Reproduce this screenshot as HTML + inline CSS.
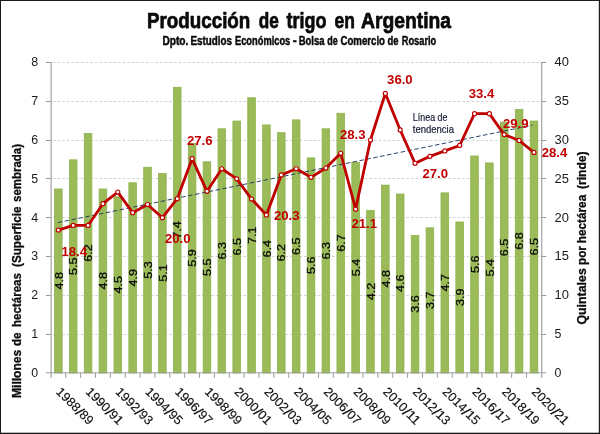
<!DOCTYPE html>
<html lang="es"><head><meta charset="utf-8"><title>Producción de trigo en Argentina</title>
<style>html,body{margin:0;padding:0;background:#fff}body{width:600px;height:434px;overflow:hidden}svg{display:block}text{font-family:"Liberation Sans",sans-serif}</style>
</head><body>
<svg width="600" height="434" viewBox="0 0 600 434">
<rect x="0" y="0" width="600" height="434" fill="#fff"/>
<g stroke="#d4d4d4" stroke-width="1" stroke-dasharray="2.8 1.85" fill="none">
<line x1="52.9" y1="334.50" x2="541.4" y2="334.50"/>
<line x1="52.9" y1="295.50" x2="541.4" y2="295.50"/>
<line x1="52.9" y1="256.50" x2="541.4" y2="256.50"/>
<line x1="52.9" y1="217.50" x2="541.4" y2="217.50"/>
<line x1="52.9" y1="178.50" x2="541.4" y2="178.50"/>
<line x1="52.9" y1="140.50" x2="541.4" y2="140.50"/>
<line x1="52.9" y1="101.50" x2="541.4" y2="101.50"/>
<line x1="52.9" y1="62.50" x2="541.4" y2="62.50"/>
</g>
<g fill="#9bbb59" stroke="#8eb24b" stroke-width="0.8">
<rect x="54.53" y="188.98" width="7.60" height="184.02"/>
<rect x="69.40" y="159.86" width="7.60" height="213.14"/>
<rect x="84.26" y="133.46" width="7.60" height="239.54"/>
<rect x="99.12" y="188.98" width="7.60" height="184.02"/>
<rect x="113.99" y="196.75" width="7.60" height="176.25"/>
<rect x="128.85" y="182.77" width="7.60" height="190.23"/>
<rect x="143.71" y="167.24" width="7.60" height="205.76"/>
<rect x="158.58" y="173.45" width="7.60" height="199.55"/>
<rect x="173.44" y="87.26" width="7.60" height="285.74"/>
<rect x="188.30" y="143.56" width="7.60" height="229.44"/>
<rect x="203.17" y="161.80" width="7.60" height="211.20"/>
<rect x="218.03" y="128.80" width="7.60" height="244.20"/>
<rect x="232.90" y="121.04" width="7.60" height="251.96"/>
<rect x="247.76" y="97.74" width="7.60" height="275.26"/>
<rect x="262.62" y="124.92" width="7.60" height="248.08"/>
<rect x="277.49" y="132.68" width="7.60" height="240.32"/>
<rect x="292.35" y="119.87" width="7.60" height="253.13"/>
<rect x="307.21" y="157.92" width="7.60" height="215.08"/>
<rect x="322.08" y="128.80" width="7.60" height="244.20"/>
<rect x="336.94" y="113.27" width="7.60" height="259.73"/>
<rect x="351.80" y="162.58" width="7.60" height="210.42"/>
<rect x="366.67" y="210.33" width="7.60" height="162.67"/>
<rect x="381.53" y="185.10" width="7.60" height="187.90"/>
<rect x="396.40" y="194.03" width="7.60" height="178.97"/>
<rect x="411.26" y="235.57" width="7.60" height="137.43"/>
<rect x="426.12" y="227.81" width="7.60" height="145.19"/>
<rect x="440.99" y="192.86" width="7.60" height="180.14"/>
<rect x="455.85" y="221.98" width="7.60" height="151.02"/>
<rect x="470.71" y="155.98" width="7.60" height="217.02"/>
<rect x="485.58" y="162.97" width="7.60" height="210.03"/>
<rect x="500.44" y="122.20" width="7.60" height="250.80"/>
<rect x="515.30" y="109.39" width="7.60" height="263.61"/>
<rect x="530.17" y="121.04" width="7.60" height="251.96"/>
</g>
<g stroke="#ababab" stroke-width="1.3" fill="none">
<line x1="51.15" y1="61.9" x2="51.15" y2="377.8"/>
<line x1="541.6999999999999" y1="61.9" x2="541.6999999999999" y2="377.8"/>
<line x1="45.9" y1="372.8" x2="546.1999999999999" y2="372.8" stroke-width="1" stroke="#9c9c9c"/>
</g>
<g stroke="#9a9a9a" stroke-width="1" fill="none">
<line x1="45.9" y1="334.50" x2="50.9" y2="334.50"/>
<line x1="541.4" y1="334.50" x2="546.1999999999999" y2="334.50"/>
<line x1="45.9" y1="295.50" x2="50.9" y2="295.50"/>
<line x1="541.4" y1="295.50" x2="546.1999999999999" y2="295.50"/>
<line x1="45.9" y1="256.50" x2="50.9" y2="256.50"/>
<line x1="541.4" y1="256.50" x2="546.1999999999999" y2="256.50"/>
<line x1="45.9" y1="217.50" x2="50.9" y2="217.50"/>
<line x1="541.4" y1="217.50" x2="546.1999999999999" y2="217.50"/>
<line x1="45.9" y1="178.50" x2="50.9" y2="178.50"/>
<line x1="541.4" y1="178.50" x2="546.1999999999999" y2="178.50"/>
<line x1="45.9" y1="140.50" x2="50.9" y2="140.50"/>
<line x1="541.4" y1="140.50" x2="546.1999999999999" y2="140.50"/>
<line x1="45.9" y1="101.50" x2="50.9" y2="101.50"/>
<line x1="541.4" y1="101.50" x2="546.1999999999999" y2="101.50"/>
<line x1="45.9" y1="62.50" x2="50.9" y2="62.50"/>
<line x1="541.4" y1="62.50" x2="546.1999999999999" y2="62.50"/>
<line x1="65.76" y1="373.0" x2="65.76" y2="377.8"/>
<line x1="80.63" y1="373.0" x2="80.63" y2="377.8"/>
<line x1="95.49" y1="373.0" x2="95.49" y2="377.8"/>
<line x1="110.35" y1="373.0" x2="110.35" y2="377.8"/>
<line x1="125.22" y1="373.0" x2="125.22" y2="377.8"/>
<line x1="140.08" y1="373.0" x2="140.08" y2="377.8"/>
<line x1="154.95" y1="373.0" x2="154.95" y2="377.8"/>
<line x1="169.81" y1="373.0" x2="169.81" y2="377.8"/>
<line x1="184.67" y1="373.0" x2="184.67" y2="377.8"/>
<line x1="199.54" y1="373.0" x2="199.54" y2="377.8"/>
<line x1="214.40" y1="373.0" x2="214.40" y2="377.8"/>
<line x1="229.26" y1="373.0" x2="229.26" y2="377.8"/>
<line x1="244.13" y1="373.0" x2="244.13" y2="377.8"/>
<line x1="258.99" y1="373.0" x2="258.99" y2="377.8"/>
<line x1="273.85" y1="373.0" x2="273.85" y2="377.8"/>
<line x1="288.72" y1="373.0" x2="288.72" y2="377.8"/>
<line x1="303.58" y1="373.0" x2="303.58" y2="377.8"/>
<line x1="318.45" y1="373.0" x2="318.45" y2="377.8"/>
<line x1="333.31" y1="373.0" x2="333.31" y2="377.8"/>
<line x1="348.17" y1="373.0" x2="348.17" y2="377.8"/>
<line x1="363.04" y1="373.0" x2="363.04" y2="377.8"/>
<line x1="377.90" y1="373.0" x2="377.90" y2="377.8"/>
<line x1="392.76" y1="373.0" x2="392.76" y2="377.8"/>
<line x1="407.63" y1="373.0" x2="407.63" y2="377.8"/>
<line x1="422.49" y1="373.0" x2="422.49" y2="377.8"/>
<line x1="437.35" y1="373.0" x2="437.35" y2="377.8"/>
<line x1="452.22" y1="373.0" x2="452.22" y2="377.8"/>
<line x1="467.08" y1="373.0" x2="467.08" y2="377.8"/>
<line x1="481.95" y1="373.0" x2="481.95" y2="377.8"/>
<line x1="496.81" y1="373.0" x2="496.81" y2="377.8"/>
<line x1="511.67" y1="373.0" x2="511.67" y2="377.8"/>
<line x1="526.54" y1="373.0" x2="526.54" y2="377.8"/>
</g>
<g font-size="11.6" fill="#0c0c0c" stroke="#0c0c0c" stroke-width="0.3" text-anchor="middle">
<text transform="translate(62.53,280.79) rotate(-90)" textLength="17.5" lengthAdjust="spacingAndGlyphs">4.8</text>
<text transform="translate(77.40,266.23) rotate(-90)" textLength="17.5" lengthAdjust="spacingAndGlyphs">5.5</text>
<text transform="translate(92.26,253.03) rotate(-90)" textLength="17.5" lengthAdjust="spacingAndGlyphs">6.2</text>
<text transform="translate(107.12,280.79) rotate(-90)" textLength="17.5" lengthAdjust="spacingAndGlyphs">4.8</text>
<text transform="translate(121.99,284.67) rotate(-90)" textLength="17.5" lengthAdjust="spacingAndGlyphs">4.5</text>
<text transform="translate(136.85,277.68) rotate(-90)" textLength="17.5" lengthAdjust="spacingAndGlyphs">4.9</text>
<text transform="translate(151.71,269.92) rotate(-90)" textLength="17.5" lengthAdjust="spacingAndGlyphs">5.3</text>
<text transform="translate(166.58,273.03) rotate(-90)" textLength="17.5" lengthAdjust="spacingAndGlyphs">5.1</text>
<text transform="translate(181.44,229.93) rotate(-90)" textLength="17.5" lengthAdjust="spacingAndGlyphs">7.4</text>
<text transform="translate(196.30,258.08) rotate(-90)" textLength="17.5" lengthAdjust="spacingAndGlyphs">5.9</text>
<text transform="translate(211.17,267.20) rotate(-90)" textLength="17.5" lengthAdjust="spacingAndGlyphs">5.5</text>
<text transform="translate(226.03,250.70) rotate(-90)" textLength="17.5" lengthAdjust="spacingAndGlyphs">6.3</text>
<text transform="translate(240.90,246.82) rotate(-90)" textLength="17.5" lengthAdjust="spacingAndGlyphs">6.5</text>
<text transform="translate(255.76,235.17) rotate(-90)" textLength="17.5" lengthAdjust="spacingAndGlyphs">7.1</text>
<text transform="translate(270.62,248.76) rotate(-90)" textLength="17.5" lengthAdjust="spacingAndGlyphs">6.4</text>
<text transform="translate(285.49,252.64) rotate(-90)" textLength="17.5" lengthAdjust="spacingAndGlyphs">6.2</text>
<text transform="translate(300.35,246.24) rotate(-90)" textLength="17.5" lengthAdjust="spacingAndGlyphs">6.5</text>
<text transform="translate(315.21,265.26) rotate(-90)" textLength="17.5" lengthAdjust="spacingAndGlyphs">5.6</text>
<text transform="translate(330.08,250.70) rotate(-90)" textLength="17.5" lengthAdjust="spacingAndGlyphs">6.3</text>
<text transform="translate(344.94,242.94) rotate(-90)" textLength="17.5" lengthAdjust="spacingAndGlyphs">6.7</text>
<text transform="translate(359.80,267.59) rotate(-90)" textLength="17.5" lengthAdjust="spacingAndGlyphs">5.4</text>
<text transform="translate(374.67,291.47) rotate(-90)" textLength="17.5" lengthAdjust="spacingAndGlyphs">4.2</text>
<text transform="translate(389.53,278.85) rotate(-90)" textLength="17.5" lengthAdjust="spacingAndGlyphs">4.8</text>
<text transform="translate(404.40,283.31) rotate(-90)" textLength="17.5" lengthAdjust="spacingAndGlyphs">4.6</text>
<text transform="translate(419.26,304.09) rotate(-90)" textLength="17.5" lengthAdjust="spacingAndGlyphs">3.6</text>
<text transform="translate(434.12,300.20) rotate(-90)" textLength="17.5" lengthAdjust="spacingAndGlyphs">3.7</text>
<text transform="translate(448.99,282.73) rotate(-90)" textLength="17.5" lengthAdjust="spacingAndGlyphs">4.7</text>
<text transform="translate(463.85,297.29) rotate(-90)" textLength="17.5" lengthAdjust="spacingAndGlyphs">3.9</text>
<text transform="translate(478.71,264.29) rotate(-90)" textLength="17.5" lengthAdjust="spacingAndGlyphs">5.6</text>
<text transform="translate(493.58,267.78) rotate(-90)" textLength="17.5" lengthAdjust="spacingAndGlyphs">5.4</text>
<text transform="translate(508.44,247.40) rotate(-90)" textLength="17.5" lengthAdjust="spacingAndGlyphs">6.5</text>
<text transform="translate(523.30,241.00) rotate(-90)" textLength="17.5" lengthAdjust="spacingAndGlyphs">6.8</text>
<text transform="translate(538.17,246.82) rotate(-90)" textLength="17.5" lengthAdjust="spacingAndGlyphs">6.5</text>
</g>
<line x1="57.8" y1="222.6" x2="532.5" y2="125.2" stroke="#1f3864" stroke-width="0.95" stroke-dasharray="4.5 2.5"/>
<polyline points="58.33,230.12 73.20,225.46 88.06,225.46 102.92,203.72 117.79,192.08 132.65,212.65 147.51,204.50 162.38,217.70 177.24,198.68 192.10,158.69 206.97,191.30 221.83,168.78 236.70,178.87 251.56,199.06 266.42,214.98 281.29,174.99 296.15,168.78 311.01,177.32 325.88,168.00 340.74,153.25 355.60,209.16 370.47,140.05 385.33,93.46 400.20,129.96 415.06,163.34 429.92,156.36 444.79,150.92 459.65,145.49 474.51,113.65 489.38,113.65 504.24,134.61 519.10,140.44 533.97,152.47" fill="none" stroke="#c00000" stroke-width="2.8" stroke-linejoin="round" stroke-linecap="round"/>
<g fill="#fff" stroke="#c00000" stroke-width="1.15">
<circle cx="58.33" cy="230.12" r="2.05"/>
<circle cx="73.20" cy="225.46" r="2.05"/>
<circle cx="88.06" cy="225.46" r="2.05"/>
<circle cx="102.92" cy="203.72" r="2.05"/>
<circle cx="117.79" cy="192.08" r="2.05"/>
<circle cx="132.65" cy="212.65" r="2.05"/>
<circle cx="147.51" cy="204.50" r="2.05"/>
<circle cx="162.38" cy="217.70" r="2.05"/>
<circle cx="177.24" cy="198.68" r="2.05"/>
<circle cx="192.10" cy="158.69" r="2.05"/>
<circle cx="206.97" cy="191.30" r="2.05"/>
<circle cx="221.83" cy="168.78" r="2.05"/>
<circle cx="236.70" cy="178.87" r="2.05"/>
<circle cx="251.56" cy="199.06" r="2.05"/>
<circle cx="266.42" cy="214.98" r="2.05"/>
<circle cx="281.29" cy="174.99" r="2.05"/>
<circle cx="296.15" cy="168.78" r="2.05"/>
<circle cx="311.01" cy="177.32" r="2.05"/>
<circle cx="325.88" cy="168.00" r="2.05"/>
<circle cx="340.74" cy="153.25" r="2.05"/>
<circle cx="355.60" cy="209.16" r="2.05"/>
<circle cx="370.47" cy="140.05" r="2.05"/>
<circle cx="385.33" cy="93.46" r="2.05"/>
<circle cx="400.20" cy="129.96" r="2.05"/>
<circle cx="415.06" cy="163.34" r="2.05"/>
<circle cx="429.92" cy="156.36" r="2.05"/>
<circle cx="444.79" cy="150.92" r="2.05"/>
<circle cx="459.65" cy="145.49" r="2.05"/>
<circle cx="474.51" cy="113.65" r="2.05"/>
<circle cx="489.38" cy="113.65" r="2.05"/>
<circle cx="504.24" cy="134.61" r="2.05"/>
<circle cx="519.10" cy="140.44" r="2.05"/>
<circle cx="533.97" cy="152.47" r="2.05"/>
</g>
<g font-size="13" font-weight="bold" fill="#c00000">
<text x="61.5" y="255.6" textLength="25.6" lengthAdjust="spacingAndGlyphs">18.4</text>
<text x="187.0" y="145.1" textLength="25.6" lengthAdjust="spacingAndGlyphs">27.6</text>
<text x="165" y="243" textLength="25.6" lengthAdjust="spacingAndGlyphs">20.0</text>
<text x="274" y="220" textLength="25.6" lengthAdjust="spacingAndGlyphs">20.3</text>
<text x="339.9" y="138.7" textLength="25.6" lengthAdjust="spacingAndGlyphs">28.3</text>
<text x="351.5" y="228" textLength="25.6" lengthAdjust="spacingAndGlyphs">21.1</text>
<text x="387.1" y="84" textLength="25.6" lengthAdjust="spacingAndGlyphs">36.0</text>
<text x="422.4" y="177.8" textLength="25.6" lengthAdjust="spacingAndGlyphs">27.0</text>
<text x="468.7" y="97.5" textLength="25.6" lengthAdjust="spacingAndGlyphs">33.4</text>
<text x="502.9" y="127.6" textLength="25.6" lengthAdjust="spacingAndGlyphs">29.9</text>
<text x="541.7" y="156.5" textLength="25.6" lengthAdjust="spacingAndGlyphs">28.4</text>
</g>
<g font-size="10.6" fill="#161d33" stroke="#161d33" stroke-width="0.2">
<text x="412.8" y="120.5" textLength="34.7" lengthAdjust="spacingAndGlyphs">Línea de</text>
<text x="412.8" y="133" textLength="41.2" lengthAdjust="spacingAndGlyphs">tendencia</text>
</g>
<g font-size="12.3" fill="#1a1a1a">
<text x="38.2" y="376.80" text-anchor="end" textLength="6.9" lengthAdjust="spacingAndGlyphs">0</text>
<text x="38.2" y="337.98" text-anchor="end" textLength="6.9" lengthAdjust="spacingAndGlyphs">1</text>
<text x="38.2" y="299.15" text-anchor="end" textLength="6.9" lengthAdjust="spacingAndGlyphs">2</text>
<text x="38.2" y="260.32" text-anchor="end" textLength="6.9" lengthAdjust="spacingAndGlyphs">3</text>
<text x="38.2" y="221.50" text-anchor="end" textLength="6.9" lengthAdjust="spacingAndGlyphs">4</text>
<text x="38.2" y="182.68" text-anchor="end" textLength="6.9" lengthAdjust="spacingAndGlyphs">5</text>
<text x="38.2" y="143.85" text-anchor="end" textLength="6.9" lengthAdjust="spacingAndGlyphs">6</text>
<text x="38.2" y="105.02" text-anchor="end" textLength="6.9" lengthAdjust="spacingAndGlyphs">7</text>
<text x="38.2" y="66.20" text-anchor="end" textLength="6.9" lengthAdjust="spacingAndGlyphs">8</text>
<text x="554.6" y="376.80" textLength="6.9" lengthAdjust="spacingAndGlyphs">0</text>
<text x="554.6" y="337.98" textLength="6.9" lengthAdjust="spacingAndGlyphs">5</text>
<text x="554.6" y="299.15" textLength="14.4" lengthAdjust="spacingAndGlyphs">10</text>
<text x="554.6" y="260.32" textLength="14.4" lengthAdjust="spacingAndGlyphs">15</text>
<text x="554.6" y="221.50" textLength="14.4" lengthAdjust="spacingAndGlyphs">20</text>
<text x="554.6" y="182.68" textLength="14.4" lengthAdjust="spacingAndGlyphs">25</text>
<text x="554.6" y="143.85" textLength="14.4" lengthAdjust="spacingAndGlyphs">30</text>
<text x="554.6" y="105.02" textLength="14.4" lengthAdjust="spacingAndGlyphs">35</text>
<text x="554.6" y="66.20" textLength="14.4" lengthAdjust="spacingAndGlyphs">40</text>
</g>
<g font-size="12.6" fill="#101010" stroke="#101010" stroke-width="0.15">
<g transform="translate(54.73,391.8) rotate(45)"><text x="0.9" textLength="28.5" lengthAdjust="spacingAndGlyphs">1988</text><text x="29.5" y="1.3" font-size="14.2" textLength="4.6" lengthAdjust="spacingAndGlyphs">/</text><text x="33.6" textLength="14.1" lengthAdjust="spacingAndGlyphs">89</text></g>
<g transform="translate(84.46,391.8) rotate(45)"><text x="0.9" textLength="28.5" lengthAdjust="spacingAndGlyphs">1990</text><text x="29.5" y="1.3" font-size="14.2" textLength="4.6" lengthAdjust="spacingAndGlyphs">/</text><text x="33.6" textLength="14.1" lengthAdjust="spacingAndGlyphs">91</text></g>
<g transform="translate(114.19,391.8) rotate(45)"><text x="0.9" textLength="28.5" lengthAdjust="spacingAndGlyphs">1992</text><text x="29.5" y="1.3" font-size="14.2" textLength="4.6" lengthAdjust="spacingAndGlyphs">/</text><text x="33.6" textLength="14.1" lengthAdjust="spacingAndGlyphs">93</text></g>
<g transform="translate(143.91,391.8) rotate(45)"><text x="0.9" textLength="28.5" lengthAdjust="spacingAndGlyphs">1994</text><text x="29.5" y="1.3" font-size="14.2" textLength="4.6" lengthAdjust="spacingAndGlyphs">/</text><text x="33.6" textLength="14.1" lengthAdjust="spacingAndGlyphs">95</text></g>
<g transform="translate(173.64,391.8) rotate(45)"><text x="0.9" textLength="28.5" lengthAdjust="spacingAndGlyphs">1996</text><text x="29.5" y="1.3" font-size="14.2" textLength="4.6" lengthAdjust="spacingAndGlyphs">/</text><text x="33.6" textLength="14.1" lengthAdjust="spacingAndGlyphs">97</text></g>
<g transform="translate(203.37,391.8) rotate(45)"><text x="0.9" textLength="28.5" lengthAdjust="spacingAndGlyphs">1998</text><text x="29.5" y="1.3" font-size="14.2" textLength="4.6" lengthAdjust="spacingAndGlyphs">/</text><text x="33.6" textLength="14.1" lengthAdjust="spacingAndGlyphs">99</text></g>
<g transform="translate(233.10,391.8) rotate(45)"><text x="0.9" textLength="28.5" lengthAdjust="spacingAndGlyphs">2000</text><text x="29.5" y="1.3" font-size="14.2" textLength="4.6" lengthAdjust="spacingAndGlyphs">/</text><text x="33.6" textLength="14.1" lengthAdjust="spacingAndGlyphs">01</text></g>
<g transform="translate(262.82,391.8) rotate(45)"><text x="0.9" textLength="28.5" lengthAdjust="spacingAndGlyphs">2002</text><text x="29.5" y="1.3" font-size="14.2" textLength="4.6" lengthAdjust="spacingAndGlyphs">/</text><text x="33.6" textLength="14.1" lengthAdjust="spacingAndGlyphs">03</text></g>
<g transform="translate(292.55,391.8) rotate(45)"><text x="0.9" textLength="28.5" lengthAdjust="spacingAndGlyphs">2004</text><text x="29.5" y="1.3" font-size="14.2" textLength="4.6" lengthAdjust="spacingAndGlyphs">/</text><text x="33.6" textLength="14.1" lengthAdjust="spacingAndGlyphs">05</text></g>
<g transform="translate(322.28,391.8) rotate(45)"><text x="0.9" textLength="28.5" lengthAdjust="spacingAndGlyphs">2006</text><text x="29.5" y="1.3" font-size="14.2" textLength="4.6" lengthAdjust="spacingAndGlyphs">/</text><text x="33.6" textLength="14.1" lengthAdjust="spacingAndGlyphs">07</text></g>
<g transform="translate(352.00,391.8) rotate(45)"><text x="0.9" textLength="28.5" lengthAdjust="spacingAndGlyphs">2008</text><text x="29.5" y="1.3" font-size="14.2" textLength="4.6" lengthAdjust="spacingAndGlyphs">/</text><text x="33.6" textLength="14.1" lengthAdjust="spacingAndGlyphs">09</text></g>
<g transform="translate(381.73,391.8) rotate(45)"><text x="0.9" textLength="28.5" lengthAdjust="spacingAndGlyphs">2010</text><text x="29.5" y="1.3" font-size="14.2" textLength="4.6" lengthAdjust="spacingAndGlyphs">/</text><text x="33.6" textLength="14.1" lengthAdjust="spacingAndGlyphs">11</text></g>
<g transform="translate(411.46,391.8) rotate(45)"><text x="0.9" textLength="28.5" lengthAdjust="spacingAndGlyphs">2012</text><text x="29.5" y="1.3" font-size="14.2" textLength="4.6" lengthAdjust="spacingAndGlyphs">/</text><text x="33.6" textLength="14.1" lengthAdjust="spacingAndGlyphs">13</text></g>
<g transform="translate(441.19,391.8) rotate(45)"><text x="0.9" textLength="28.5" lengthAdjust="spacingAndGlyphs">2014</text><text x="29.5" y="1.3" font-size="14.2" textLength="4.6" lengthAdjust="spacingAndGlyphs">/</text><text x="33.6" textLength="14.1" lengthAdjust="spacingAndGlyphs">15</text></g>
<g transform="translate(470.91,391.8) rotate(45)"><text x="0.9" textLength="28.5" lengthAdjust="spacingAndGlyphs">2016</text><text x="29.5" y="1.3" font-size="14.2" textLength="4.6" lengthAdjust="spacingAndGlyphs">/</text><text x="33.6" textLength="14.1" lengthAdjust="spacingAndGlyphs">17</text></g>
<g transform="translate(500.64,391.8) rotate(45)"><text x="0.9" textLength="28.5" lengthAdjust="spacingAndGlyphs">2018</text><text x="29.5" y="1.3" font-size="14.2" textLength="4.6" lengthAdjust="spacingAndGlyphs">/</text><text x="33.6" textLength="14.1" lengthAdjust="spacingAndGlyphs">19</text></g>
<g transform="translate(530.37,391.8) rotate(45)"><text x="0.9" textLength="28.5" lengthAdjust="spacingAndGlyphs">2020</text><text x="29.5" y="1.3" font-size="14.2" textLength="4.6" lengthAdjust="spacingAndGlyphs">/</text><text x="33.6" textLength="14.1" lengthAdjust="spacingAndGlyphs">21</text></g>
</g>
<g font-size="22.9" font-weight="bold" fill="#0a0a0a" stroke="#0a0a0a" stroke-width="0.75" stroke-linejoin="round">
<text x="147" y="28.1" textLength="103.3" lengthAdjust="spacingAndGlyphs">Producción</text>
<text x="258.7" y="28.1" textLength="20.0" lengthAdjust="spacingAndGlyphs">de</text>
<text x="286.6" y="28.1" textLength="39.9" lengthAdjust="spacingAndGlyphs">trigo</text>
<text x="334.6" y="28.1" textLength="20.4" lengthAdjust="spacingAndGlyphs">en</text>
<text x="361" y="28.1" textLength="90.0" lengthAdjust="spacingAndGlyphs">Argentina</text>
</g>
<g font-size="12.1" font-weight="bold" fill="#0a0a0a" stroke="#0a0a0a" stroke-width="0.45" stroke-linejoin="round">
<text x="162.4" y="45" textLength="26.0" lengthAdjust="spacingAndGlyphs">Dpto.</text>
<text x="190.4" y="45" textLength="41.6" lengthAdjust="spacingAndGlyphs">Estudios</text>
<text x="235.0" y="45" textLength="55.3" lengthAdjust="spacingAndGlyphs">Económicos</text>
<text x="292.8" y="45" textLength="4.0" lengthAdjust="spacingAndGlyphs">-</text>
<text x="298.7" y="45" textLength="25.9" lengthAdjust="spacingAndGlyphs">Bolsa</text>
<text x="327.2" y="45" textLength="10.5" lengthAdjust="spacingAndGlyphs">de</text>
<text x="340.4" y="45" textLength="44.6" lengthAdjust="spacingAndGlyphs">Comercio</text>
<text x="387.6" y="45" textLength="11.0" lengthAdjust="spacingAndGlyphs">de</text>
<text x="401.8" y="45" textLength="34.4" lengthAdjust="spacingAndGlyphs">Rosario</text>
</g>
<g font-size="12.8" font-weight="bold" fill="#0c0c0c" stroke="#0c0c0c" stroke-width="0.3">
<text transform="translate(21,398) rotate(-90)" textLength="48.3" lengthAdjust="spacingAndGlyphs">Millones</text>
<text transform="translate(21,346.1) rotate(-90)" textLength="13.7" lengthAdjust="spacingAndGlyphs">de</text>
<text transform="translate(21,327.1) rotate(-90)" textLength="54.1" lengthAdjust="spacingAndGlyphs">hectáreas</text>
<text transform="translate(21,267) rotate(-90)" textLength="60.5" lengthAdjust="spacingAndGlyphs">(Superficie</text>
<text transform="translate(21,202) rotate(-90)" textLength="58.0" lengthAdjust="spacingAndGlyphs">sembrada)</text>
<text transform="translate(585.8,324.6) rotate(-90)" textLength="56.4" lengthAdjust="spacingAndGlyphs">Quintales</text>
<text transform="translate(585.8,265) rotate(-90)" textLength="18.9" lengthAdjust="spacingAndGlyphs">por</text>
<text transform="translate(585.8,243.2) rotate(-90)" textLength="48.4" lengthAdjust="spacingAndGlyphs">hectárea</text>
<text transform="translate(585.8,188.9) rotate(-90)" textLength="37.4" lengthAdjust="spacingAndGlyphs">(rinde)</text>
</g>
<g fill="#1c1c1c"><rect x="0" y="0" width="600" height="1"/><rect x="0" y="0" width="1" height="434"/><rect x="598.8" y="0" width="1.2" height="434"/><rect x="0" y="432.7" width="600" height="1.3"/></g>
</svg></body></html>
